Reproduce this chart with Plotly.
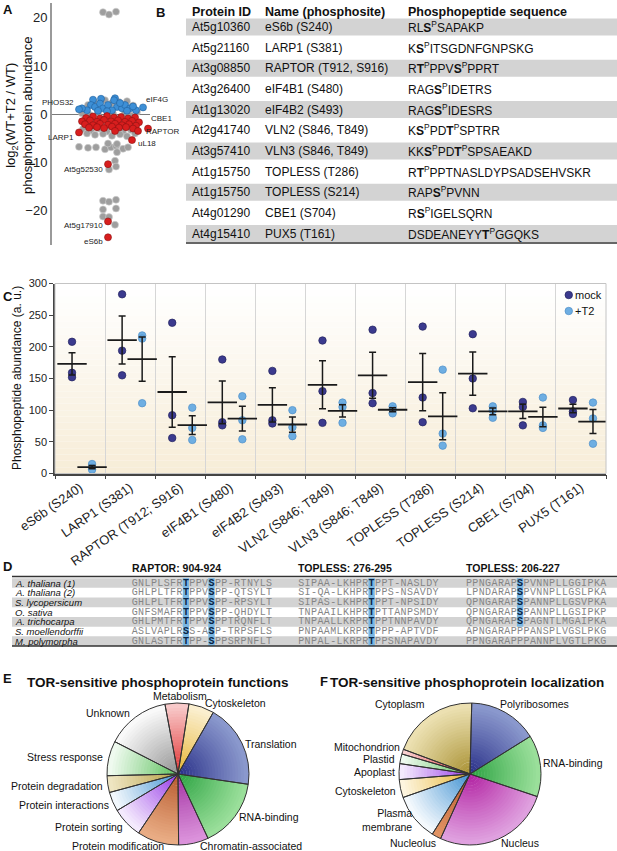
import numpy as np
import plotly.graph_objects as go

W, H = 617, 851
FONT = "Liberation Sans, Arial, sans-serif"
MONO = "Liberation Mono, Courier New, monospace"


def px(x):
    return x / W


def py(y):
    return 1 - y / H


# ---------------- panel A: log2(WT+T2 / WT) ----------------
a_gray_x = [-5, 1, 8,
            -14, -3, 11, 19, -20, 25, 3,
            -26, -10, 5, 17, 29, -18, 23,
            -25, -17, -9, -1, 9, 15, 23, -21, -13, -5, 4, 12, 19, 27,
            -29, -20, -12, -3, 3, 8, 15, 20, 0, 9, 9,
            7, 1, 8,
            -5, 1, 8, -5, 8, -5, 1, 7]
a_gray_y = [21.2, 20.7, 21.3,
            2.6, 2.9, 2.5, 2.7, 1.9, 1.8, 2.2,
            0.2, 0.4, 0.1, 0.3, 0.5, -0.2, -0.3,
            -3.1, -3.4, -3.0, -3.6, -3.2, -3.7, -3.3, -4.0, -4.3, -4.1, -4.5, -4.2, -4.6, -4.0,
            -6.8, -7.0, -6.9, -7.3, -6.9, -6.6, -7.2, -6.9, -6.1, -6.2, -7.9,
            -9.7, -11.5, -10.9,
            -18.0, -18.2, -17.8, -19.8, -19.6, -21.3, -21.4, -23.0]

a_blue_x = [-7, 7, -15, -17, -13, -8, -5, 0, 6, 9, 14, 17, 22, -21, -26, 4, -10, 19, 28, -1, 12, 25]
a_blue_y = [3.2, 3.3, 3.0, 1.9, 1.5, 2.2, 1.2, 1.9, 2.9, 1.5, 1.2, 1.9, 1.2, 0.8, 1.2, 0.8, 0.7, 0.7,
            0.8, 0.6, 2.3, 1.6]

a_red_x = [-22, -15, -8, -1, 6, 13, 20, 27,
           -26, -18, -11, -4, 3, 10, 17, 24, 31,
           -23, -15, -8, 0, 7, 14, 21, 28,
           -19, -11, -4, 4, 11, 18, 25, 7]
a_red_y = [-0.8, -0.5, -0.9, -0.4, -0.7, -0.6, -0.9, -0.7,
           -1.5, -1.3, -1.6, -1.2, -1.5, -1.3, -1.6, -1.4, -1.7,
           -2.1, -2.3, -2.0, -2.2, -2.0, -2.3, -2.1, -2.4,
           -2.8, -2.7, -2.9, -2.6, -2.8, -2.7, -3.0, -3.5]

a_lab_names = ["PHOS32", "eIF4G", "LARP1", "CBE1", "RAPTOR", "uL18", "At5g52530", "At5g17910", "eS6b"]
a_lab_x = [-29, 35, -29, 40, 30, 24, 0, 0, 0]
a_lab_y = [1.0, 1.4, -3.8, -3.0, -3.5, -5.4, -10.4, -22.3, -25.6]

# ---------------- panel B: table ----------------
b_ids = ["At5g10360", "At5g21160", "At3g08850", "At3g26400", "At1g13020", "At2g41740",
         "At3g57410", "At1g15750", "At1g15750", "At4g01290", "At4g15410"]
b_names = ["eS6b (S240)", "LARP1 (S381)", "RAPTOR (T912, S916)", "eIF4B1 (S480)", "eIF4B2 (S493)",
           "VLN2 (S846, T849)", "VLN3 (S846, T849)", "TOPLESS (T286)", "TOPLESS (S214)",
           "CBE1 (S704)", "PUX5 (T161)"]
b_seqs = ["RLS*SAPAKP", "KS*ITSGDNFGNPSKG", "RT*PPVS*PPRT", "RAGS*IDETRS", "RAGS*IDESRS",
          "KS*PDT*SPTRR", "KKS*PDT*SPSAEAKD", "RT*PPTNASLDYPSADSEHVSKR", "RAPS*PVNN",
          "RS*IGELSQRN", "DSDEANEYYT*GGQKS"]

# ---------------- panel C: phosphopeptide abundance ----------------
c_names = ["eS6b (S240)", "LARP1 (S381)", "RAPTOR (T912; S916)", "eIF4B1 (S480)", "eIF4B2 (S493)",
           "VLN2 (S846; T849)", "VLN3 (S846; T849)", "TOPLESS (T286)", "TOPLESS (S214)",
           "CBE1 (S704)", "PUX5 (T161)"]
c_mock = [[208, 159, 152], [283, 194, 155], [238, 92, 56], [180, 81, 76], [162, 84, 79],
          [210, 130, 80], [227, 127, 111], [232, 120, 81], [220, 150, 103], [113, 105, 76],
          [116, 98, 94]]
c_t2 = [[15, 9, 6], [218, 213, 111], [104, 72, 53], [122, 84, 54], [100, 73, 59],
        [112, 105, 80], [106, 101, 95], [164, 63, 44], [106, 100, 88], [120, 76, 72],
        [112, 87, 47]]

# ---------------- panel D: alignment ----------------
d_species = ["A. thaliana (1)", "A. thaliana (2)", "S. lycopersicum", "O. sativa",
             "A. trichocarpa", "S. moellendorffii", "M. polymorpha"]
d_headers = ["RAPTOR: 904-924", "TOPLESS: 276-295", "TOPLESS: 206-227"]
d_raptor = ["GNLPLSFRTPPVSPP-RTNYLS", "GHLPLTFRTPPVSPP-QTSYLT", "GHLPLTFRTPPVSPP-RPSYLT",
            "GNFSMAFRTPPVSPP-QHDYLT", "GHLPMTFRTPPVSPPTRQNFLT", "ASLVAPLRSS-ASP-TRPSFLS",
            "GNLASTFRTPP-SPPSRPNFLT"]
d_tpl1 = ["SIPAA-LKHPRTPPT-NASLDY", "SI-QA-LKHPRTPPS-NSAVDY", "SIPAS-LKHPRTPPT-NPSIDY",
          "TNPAAILKHPRTPTTANPSMDY", "TNPAALLKRPRTPPTNNPAVDY", "PNPAAMLKRPRTPPP-APTVDF",
          "PNPAL-LKRPRTPPSNAPAVDY"]
d_tpl2 = ["PPNGARAPSPVNNPLLGGIPKA", "LPNDARAPSPVNNPLLGSLPKA", "QPNGARAPSPANNPLLGSVPKA",
          "QPNGARAPSPANNPLLGSIPKP", "QPNGARAPSPAGNTLMGAIPKA", "APNGARAPPPANSPLVGSLPKG",
          "PPNGARAPPPANNPLVGTLPKG"]
d_sites = [[8, 12], [11], [8]]

# ---------------- panels E, F: pies ----------------
e_labels = ["Metabolism", "Cytoskeleton", "Translation", "RNA-binding", "Chromatin-associated",
            "Protein modification", "Protein sorting", "Protein interactions",
            "Protein degradation", "Stress response", "Unknown"]
e_values = [5.4, 5.8, 19.0, 15.7, 6.8, 9.5, 7.0, 4.4, 3.8, 7.9, 14.5]
e_inner = ["#e02a2a", "#e6b22c", "#262c86", "#27a03e", "#a02ea0", "#b5562a", "#9232e6",
           "#3a8ed0", "#b49c3c", "#55be55", "#8e8e8e"]
e_outer = ["#f8cccc", "#fbf0d2", "#8c9ace", "#9ce09c", "#dc94dc", "#eaae86", "#f6eefd",
           "#f5f9fd", "#efe6c4", "#f2fbf2", "#fbfbfb"]

f_labels = ["Polyribosomes", "RNA-binding", "Nucleus", "Nucleolus", "Plasma membrane",
            "Cytoskeleton", "Apoplast", "Plastid", "Mitochondrion", "Cytoplasm"]
f_values = [15.7, 14.0, 26.6, 2.1, 10.7, 4.1, 3.6, 2.2, 1.1, 19.7]
f_inner = ["#262c86", "#27a03e", "#b01ea0", "#b5562a", "#3a8ed0", "#e6b22c", "#9232e6",
           "#55be55", "#e02a2a", "#a68e2e"]
f_outer = ["#8c9ace", "#9ce09c", "#e0a2e0", "#e29464", "#f8fbfe", "#fdf6e2", "#f6eefd",
           "#f2fbf2", "#f8d2d2", "#ede2b4"]

fig = go.Figure()
ann = []
shapes = []


def note(x, y, text, size=12, anchor="left", color="#111", **kw):
    d = dict(x=px(x), y=py(y), xref="paper", yref="paper", text=text, showarrow=False,
             xanchor=anchor, yanchor="middle", borderpad=0, borderwidth=0,
             font=dict(size=size, family=FONT, color=color))
    d.update(kw)
    return d


def mix(c1, c2, t):
    a = [int(c1[i:i + 2], 16) for i in (1, 3, 5)]
    b = [int(c2[i:i + 2], 16) for i in (1, 3, 5)]
    return "rgb(%d,%d,%d)" % tuple(round(a[i] + (b[i] - a[i]) * t) for i in range(3))


# ---- A traces
fig.add_trace(go.Scatter(x=a_gray_x, y=a_gray_y, mode="markers", xaxis="x", yaxis="y",
                         marker=dict(size=7, color="#9e9e9e", line=dict(width=0.6, color="#d0d0d0")),
                         cliponaxis=False))
fig.add_trace(go.Scatter(x=a_blue_x + a_lab_x[:2], y=a_blue_y + a_lab_y[:2], mode="markers",
                         xaxis="x", yaxis="y",
                         marker=dict(size=7, color="#3d8fd6", line=dict(width=0.6, color="#1f5f9e")),
                         cliponaxis=False))
fig.add_trace(go.Scatter(x=a_red_x + a_lab_x[2:], y=a_red_y + a_lab_y[2:], mode="markers",
                         xaxis="x", yaxis="y",
                         marker=dict(size=7, color="#d81e1e", line=dict(width=0.6, color="#8a1010")),
                         cliponaxis=False))

lab_shift = {"PHOS32": (-3, 7, "right"), "eIF4G": (1, 8, "left"), "LARP1": (-3, -5, "right"),
             "CBE1": (1, 10, "left"), "RAPTOR": (6, -1, "left"), "uL18": (4, -3, "left"),
             "At5g52530": (-3, -5, "right"), "At5g17910": (-3, -4, "right"), "eS6b": (-3, -4, "right")}
for name, x, y in zip(a_lab_names, a_lab_x, a_lab_y):
    dx, dy, anc = lab_shift[name]
    ann.append(dict(x=x, y=y, xref="x", yref="y", text=name, showarrow=False, xanchor=anc,
                    yanchor="middle", xshift=dx, yshift=dy,
                    font=dict(size=8, family=FONT, color="#222")))

ann.append(note(19, 115, "log<sub>2</sub>(WT+T2 / WT)<br>phosphoprotein abundance", size=13,
                anchor="center", textangle=-90))

# ---- B table
for k in range(len(b_ids)):
    yc = 27 + 20.65 * k
    if k % 2 == 0:
        shapes.append(dict(type="rect", xref="paper", yref="paper", x0=px(186), x1=1,
                           y0=py(yc + 8.5), y1=py(yc - 8.5), fillcolor="#d3d3d3",
                           line=dict(width=0), layer="below"))
    seq = ""
    for i, ch in enumerate(b_seqs[k]):
        if ch == "*":
            continue
        if i + 1 < len(b_seqs[k]) and b_seqs[k][i + 1] == "*":
            seq += "<b>" + ch + "</b><sup>P</sup>"
        else:
            seq += ch
    ann.append(note(192, yc, b_ids[k]))
    ann.append(note(265, yc, b_names[k]))
    ann.append(note(408, yc, seq))
shapes.append(dict(type="line", xref="paper", yref="paper", x0=px(186), x1=1, y0=py(243), y1=py(243),
                   line=dict(color="#333", width=1.5)))
ann.append(note(192, 12, "<b>Protein ID</b>", size=12.5))
ann.append(note(265, 12, "<b>Name (phosphosite)</b>", size=12.5))
ann.append(note(408, 12, "<b>Phosphopeptide sequence</b>", size=12.5))

# ---- C traces
xs = np.arange(len(c_names))
mock = np.array(c_mock, dtype=float)
t2 = np.array(c_t2, dtype=float)
groups = [(mock, -0.16, "mock", "#3b3a8e", "#23225e"), (t2, 0.24, "+T2", "#6eaee2", "#4f8fc8")]
for arr, off, name, col, edge in groups:
    fig.add_trace(go.Scatter(x=np.repeat(xs + off, arr.shape[1]), y=arr.ravel(), mode="markers",
                             xaxis="x2", yaxis="y2", name=name,
                             marker=dict(size=7.5, color=col, line=dict(width=0.7, color=edge))))
for arr, off, name, col, edge in groups:
    mean = arr.mean(axis=1)
    sem = arr.std(axis=1, ddof=1) / np.sqrt(arr.shape[1])
    fig.add_trace(go.Scatter(x=xs + off, y=mean, mode="markers", xaxis="x2", yaxis="y2",
                             marker=dict(symbol="line-ew", size=21, line=dict(width=1.8, color="#1a1a1a")),
                             error_y=dict(type="data", array=sem, width=3.5, thickness=1.5, color="#1a1a1a")))

# legend drawn by hand so it does not push the margins
for i, (arr, off, name, col, edge) in enumerate(groups):
    yc = 295 + 16 * i
    shapes.append(dict(type="circle", xref="paper", yref="paper", x0=px(565), x1=px(572.5),
                       y0=py(yc + 3.75), y1=py(yc - 3.75), fillcolor=col, line=dict(color=edge, width=0.7)))
    ann.append(note(575, yc, name, size=11))

nb = 30
for i in range(nb):
    t = i / (nb - 1)
    shapes.append(dict(type="rect", xref="x2 domain", yref="y2 domain", x0=0, x1=1,
                       y0=i / nb, y1=(i + 1) / nb, fillcolor=mix("#f7edd8", "#ffffff", t),
                       line=dict(width=0), layer="below"))
shapes.append(dict(type="rect", xref="x2 domain", yref="y2 domain", x0=0, x1=1, y0=0, y1=1,
                   line=dict(color="#c4c4c4", width=1)))
ann.append(note(17, 378, "Phosphopeptide abundance (a. u.)", size=12, anchor="center", textangle=-90))

# ---- D alignment (one text mark per residue on a pixel-scaled overlay axis)
row_y = [583 + 9.7 * k for k in range(len(d_species))]
starts = [131.5, 298.0, 465.7]
cw = 6.4
for k, yc in enumerate(row_y):
    if k % 2 == 0:
        shapes.append(dict(type="rect", xref="paper", yref="paper", x0=px(12), x1=1,
                           y0=py(yc + 4.85), y1=py(yc - 4.85), fillcolor="#d3d3d3",
                           line=dict(width=0), layer="below"))
    ann.append(note(15, yc, "<i>" + d_species[k] + "</i>", size=9.5))
plain_x, plain_y, plain_t = [], [], []
hl_x, hl_y, hl_t = [], [], []
for c, seqs in enumerate([d_raptor, d_tpl1, d_tpl2]):
    for idx in d_sites[c]:
        rows = [k for k in range(len(seqs)) if seqs[k][idx] in "ST"]
        shapes.append(dict(type="rect", xref="paper", yref="paper",
                           x0=px(starts[c] + idx * cw), x1=px(starts[c] + (idx + 1) * cw),
                           y0=py(row_y[max(rows)] + 4.85), y1=py(row_y[min(rows)] - 4.85),
                           fillcolor="#79b6e2", line=dict(width=0), layer="below"))
    for k, s in enumerate(seqs):
        for i, ch in enumerate(s):
            xc = starts[c] + (i + 0.5) * cw
            if i in d_sites[c] and ch in "ST":
                hl_x.append(xc)
                hl_y.append(row_y[k])
                hl_t.append("<b>" + ch + "</b>")
            else:
                plain_x.append(xc)
                plain_y.append(row_y[k])
                plain_t.append(ch)
    ann.append(note(starts[c], 568, "<b>" + d_headers[c] + "</b>", size=10.5))
fig.add_trace(go.Scatter(x=plain_x, y=plain_y, text=plain_t, mode="text", xaxis="x3", yaxis="y3",
                         textposition="middle center", cliponaxis=False, hoverinfo="skip",
                         textfont=dict(family=MONO, size=10, color="#858585")))
fig.add_trace(go.Scatter(x=hl_x, y=hl_y, text=hl_t, mode="text", xaxis="x3", yaxis="y3",
                         textposition="middle center", cliponaxis=False, hoverinfo="skip",
                         textfont=dict(family=MONO, size=10, color="#0b2545")))
shapes.append(dict(type="line", xref="paper", yref="paper", x0=px(12), x1=1, y0=py(576.5), y1=py(576.5),
                   line=dict(color="#333", width=1.5)))
shapes.append(dict(type="line", xref="paper", yref="paper", x0=px(12), x1=1, y0=py(646), y1=py(646),
                   line=dict(color="#333", width=1.5)))

# ---- E, F pies: concentric rings give the centre-to-rim shading
n_ring = 24
for values, labels, inner, outer, cx, rot in [(e_values, e_labels, e_inner, e_outer, 178, -10.6),
                                             (f_values, f_labels, f_inner, f_outer, 470, 1.4)]:
    cy, r = 774, 71
    for j in range(n_ring):
        ro = r * (j + 1) / n_ring
        t = (j + 0.5) / n_ring
        cols = [mix(a, b, t ** 0.9) for a, b in zip(inner, outer)]
        fig.add_trace(go.Pie(values=values, labels=labels, sort=False, direction="clockwise",
                             rotation=rot, hole=max(0, j / (j + 1) - 0.03),
                             domain=dict(x=[px(cx - ro), px(cx + ro)], y=[py(cy + ro), py(cy - ro)]),
                             marker=dict(colors=cols, line=dict(width=0)),
                             textinfo="none", hoverinfo="skip"))
    fig.add_trace(go.Pie(values=values, labels=labels, sort=False, direction="clockwise", rotation=rot,
                         domain=dict(x=[px(cx - r), px(cx + r)], y=[py(cy + r), py(cy - r)]),
                         marker=dict(colors=["rgba(0,0,0,0)"] * len(values), line=dict(color="#333", width=1)),
                         textinfo="none"))

e_pos = {"Metabolism": (180, 696, "center"), "Cytoskeleton": (235, 703, "center"),
         "Translation": (245, 744, "left"), "RNA-binding": (239, 817, "left"),
         "Chromatin-associated": (200, 846, "left"), "Protein modification": (118, 846, "center"),
         "Protein sorting": (123, 827, "right"), "Protein interactions": (109, 805, "right"),
         "Protein degradation": (103, 786, "right"), "Stress response": (103, 757, "right"),
         "Unknown": (130, 713, "right")}
for lab in e_labels:
    x, y, anc = e_pos[lab]
    ann.append(note(x, y, lab, size=10.5, anchor=anc))
f_pos = {"Cytoplasm": (400, 704, "center"), "Polyribosomes": (500, 704, "left"),
         "Mitochondrion": (400, 747, "right"), "Plastid": (395, 759, "right"),
         "Apoplast": (395, 772, "right"), "Cytoskeleton": (396, 791, "right"),
         "Plasma membrane": (412, 820, "right"), "Nucleolus": (413, 843, "center"),
         "Nucleus": (520, 843, "center"), "RNA-binding": (543, 763, "left")}
for lab in f_labels:
    x, y, anc = f_pos[lab]
    txt = "Plasma<br>membrane" if lab == "Plasma membrane" else lab
    ann.append(note(x, y, txt, size=10.5, anchor=anc, align="right"))

ann.append(note(158, 682, "<b>TOR-sensitive phosphoprotein functions</b>", size=13.5, anchor="center"))
ann.append(note(467, 682, "<b>TOR-sensitive phosphoprotein localization</b>", size=13.5, anchor="center"))

# panel letters
for letter, x, y in [("A", 3, 9), ("B", 156, 12), ("C", 3, 296), ("D", 3, 566), ("E", 3, 678), ("F", 320, 681)]:
    ann.append(note(x, y, "<b>" + letter + "</b>", size=13))

fig.update_layout(
    width=W, height=H, autosize=False,
    margin=dict(l=0, r=0, t=0, b=0, autoexpand=False),
    paper_bgcolor="white", plot_bgcolor="rgba(0,0,0,0)",
    font=dict(family=FONT, size=12, color="#222"),
    showlegend=False,
    xaxis=dict(domain=[px(52), px(150)], range=[-56, 42], visible=False, anchor="y", automargin=False),
    yaxis=dict(domain=[py(245), py(3)], range=[-27.2, 23.1], tickvals=[-20, -10, 0, 10, 20],
               showline=True, linecolor="#9a9a9a", linewidth=2, showgrid=False,
               zeroline=True, zerolinecolor="#7a7a7a", zerolinewidth=1.2,
               tickfont=dict(size=13), anchor="x", automargin=False),
    xaxis2=dict(domain=[px(55), px(606)], range=[-0.5, 10.5], tickvals=list(xs), ticktext=c_names,
                tickangle=-35, tickfont=dict(size=13), showline=True, linecolor="#444", linewidth=1.5,
                showgrid=False, zeroline=False, ticks="", anchor="y2", automargin=False,
                minor=dict(tick0=0.5, dtick=1, ticks="outside", ticklen=4, tickcolor="#444",
                           showgrid=True, gridcolor="#d6d6d6", gridwidth=1)),
    yaxis2=dict(domain=[py(473.5), py(283.5)], range=[0, 300], dtick=50, showline=True,
                linecolor="#444", linewidth=1.5, ticks="outside", ticklen=4, tickcolor="#444",
                showgrid=False, zeroline=False, tickfont=dict(size=11), anchor="x2", automargin=False),
    xaxis3=dict(domain=[0, 1], range=[0, W], visible=False, anchor="y3", automargin=False),
    yaxis3=dict(domain=[0, 1], range=[H, 0], visible=False, anchor="x3", automargin=False),
    annotations=ann,
    shapes=shapes,
)

fig.write_html("out.html", config={"displayModeBar": False},
               post_script="document.body.style.margin='0px';")
